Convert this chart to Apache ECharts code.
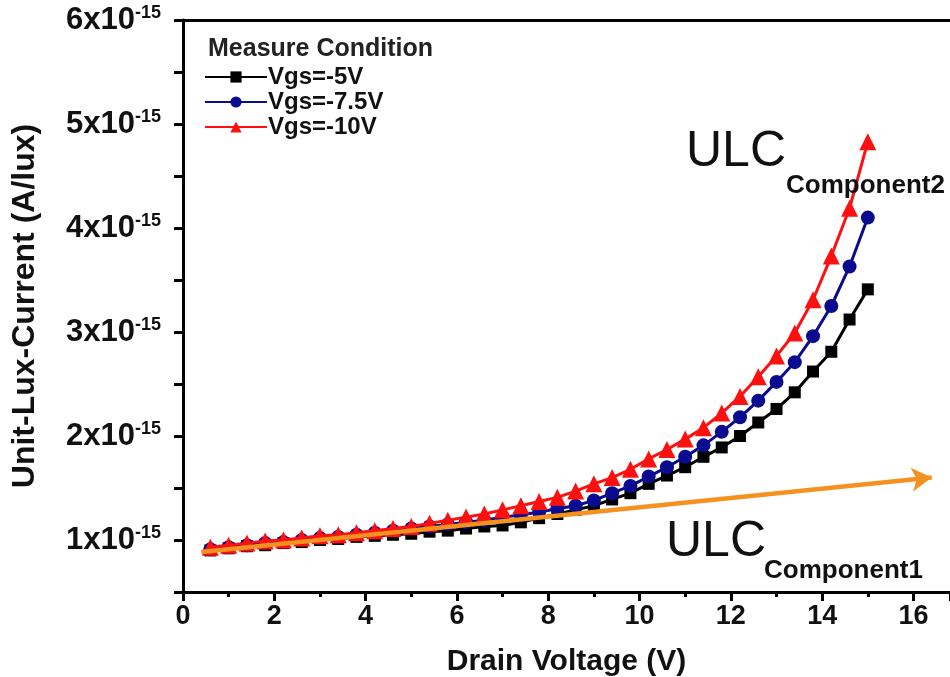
<!DOCTYPE html>
<html>
<head>
<meta charset="utf-8">
<script src="https://cdn.jsdelivr.net/npm/echarts@6/dist/echarts.min.js"></script>
<style>html,body{margin:0;padding:0;background:#fff}#c{width:950px;height:677px}</style>
</head>
<body>
<div id="c"></div>
<script>
// Drain voltage (V)
const drainVoltage = [0.6,1.0,1.4,1.8,2.2,2.6,3.0,3.4,3.8,4.2,4.6,5.0,5.4,5.8,6.2,6.6,7.0,7.4,7.8,8.2,8.6,9.0,9.4,9.8,10.2,10.6,11.0,11.4,11.8,12.2,12.6,13.0,13.4,13.8,14.2,14.6,15.0];
// Unit-lux-current, in units of 1e-15 A/lux
const vgs5 = [0.90,0.92,0.94,0.95,0.97,0.98,1.00,1.01,1.03,1.04,1.05,1.06,1.08,1.09,1.11,1.13,1.14,1.17,1.21,1.25,1.29,1.33,1.39,1.45,1.54,1.62,1.70,1.80,1.89,2.00,2.13,2.26,2.42,2.62,2.81,3.12,3.41];
const vgs75 = [0.91,0.93,0.95,0.97,0.98,1.00,1.02,1.03,1.05,1.07,1.09,1.11,1.13,1.15,1.17,1.19,1.22,1.24,1.27,1.30,1.33,1.38,1.45,1.52,1.61,1.70,1.80,1.91,2.04,2.18,2.34,2.52,2.71,2.96,3.25,3.63,4.10];
const vgs10 = [0.93,0.95,0.97,0.99,1.00,1.02,1.04,1.05,1.07,1.09,1.11,1.13,1.16,1.19,1.22,1.25,1.29,1.33,1.37,1.41,1.47,1.54,1.60,1.68,1.78,1.87,1.97,2.08,2.22,2.38,2.57,2.77,2.99,3.31,3.73,4.19,4.83];
// ULC component 1 trend arrow: start and end points [V, 1e-15 A/lux]
const component1Start = [0.4, 0.885];
const component1End = [16.4, 1.60];
const seriesNames = ['Vgs=-5V','Vgs=-7.5V','Vgs=-10V'];
const yTickValues = [1,2,3,4,5,6];
const xTickValues = [0,2,4,6,8,10,12,14,16];

const FONT = '"Liberation Sans", Arial, sans-serif';
const zip = (xs, ys) => xs.map((x, i) => [x, ys[i]]);

const chart = echarts.init(document.getElementById('c'), null, {renderer: 'canvas'});
const axisLine = {show: true, lineStyle: {color: '#000', width: 3}};

chart.setOption({
  animation: false,
  backgroundColor: '#fff',
  textStyle: {fontFamily: FONT},
  title: {
    text: 'Measure Condition', left: 203, top: 32,
    textStyle: {fontFamily: FONT, fontSize: 25, fontWeight: 'bold', color: '#222'}
  },
  legend: {
    data: seriesNames, orient: 'vertical', left: 199, top: 60,
    itemWidth: 62, itemHeight: 14, itemGap: 1,
    textStyle: {fontFamily: FONT, fontSize: 24, lineHeight: 24, fontWeight: 'bold', color: '#111', padding: [0,0,0,-4]}
  },
  grid: {left: 183, right: 0, top: 20, bottom: 85, containLabel: false, outerBoundsMode: 'none'},
  xAxis: [{
    type: 'value', min: 0, max: 16.8, interval: 2,
    name: 'Drain Voltage (V)', nameLocation: 'middle', nameGap: 55,
    nameTextStyle: {fontFamily: FONT, fontSize: 30, fontWeight: 'bold', color: '#111'},
    axisLine: axisLine,
    axisTick: {show: true, length: 9, lineStyle: {color: '#000', width: 3}},
    minorTick: {show: true, splitNumber: 2, length: 5, lineStyle: {color: '#000', width: 3}},
    splitLine: {show: false},
    axisLabel: {
      margin: 11, fontFamily: FONT, fontSize: 27, color: '#111', fontWeight: 'bold',
      formatter: v => xTickValues.includes(v) ? String(v) : ''
    }
  }, {
    type: 'value', position: 'top', min: 0, max: 16.8,
    axisLine: axisLine, axisTick: {show: false}, axisLabel: {show: false}, splitLine: {show: false}
  }],
  yAxis: {
    type: 'value', min: 0.5, max: 6, interval: 0.5,
    name: 'Unit-Lux-Current (A/lux)', nameLocation: 'middle', nameGap: 142,
    nameTextStyle: {fontFamily: FONT, fontSize: 32, fontWeight: 'bold', color: '#111'},
    axisLine: axisLine,
    axisTick: {show: true, length: 9, lineStyle: {color: '#000', width: 3}},
    splitLine: {show: false},
    axisLabel: {
      margin: 22, color: '#111',
      formatter: v => yTickValues.includes(v) ? '{n|' + v + 'x10}{s|-15}' : '',
      rich: {
        n: {fontFamily: FONT, fontSize: 31, fontWeight: 'bold', color: '#111', verticalAlign: 'bottom', lineHeight: 32},
        s: {fontFamily: FONT, fontSize: 18, fontWeight: 'bold', color: '#111', verticalAlign: 'top', lineHeight: 32}
      }
    }
  },
  series: [
    {name: seriesNames[0], type: 'line', data: zip(drainVoltage, vgs5), symbol: 'rect', symbolSize: 12,
      itemStyle: {color: '#000'}, lineStyle: {color: '#000', width: 3}, z: 2},
    {name: seriesNames[1], type: 'line', data: zip(drainVoltage, vgs75), symbol: 'circle', symbolSize: 14,
      itemStyle: {color: '#0b0b8f'}, lineStyle: {color: '#0b0b8f', width: 3}, z: 3},
    {name: seriesNames[2], type: 'line', data: zip(drainVoltage, vgs10), symbol: 'triangle', symbolSize: 17,
      itemStyle: {color: '#ff1010'}, lineStyle: {color: '#ff1010', width: 3}, z: 4},
    {name: 'ULC Component1', type: 'line', data: [], z: 6,
      markLine: {
        silent: true, symbol: ['none', 'arrow'], symbolSize: [18, 20], animation: false,
        label: {show: false},
        lineStyle: {color: '#f5921e', width: 4.5, type: 'solid'},
        data: [[{coord: component1Start}, {coord: component1End}]]
      }}
  ],
  graphic: [
    {type: 'text', left: 686, top: 127, z: 10,
      style: {text: 'ULC', font: '50px ' + FONT, fill: '#111'}},
    {type: 'text', left: 786, top: 173, z: 10,
      style: {text: 'Component2', font: 'bold 26px ' + FONT, fill: '#111'}},
    {type: 'text', left: 666, top: 517, z: 10,
      style: {text: 'ULC', font: '50px ' + FONT, fill: '#111'}},
    {type: 'text', left: 764, top: 558, z: 10,
      style: {text: 'Component1', font: 'bold 26px ' + FONT, fill: '#111'}}
  ]
});
</script>
</body>
</html>
